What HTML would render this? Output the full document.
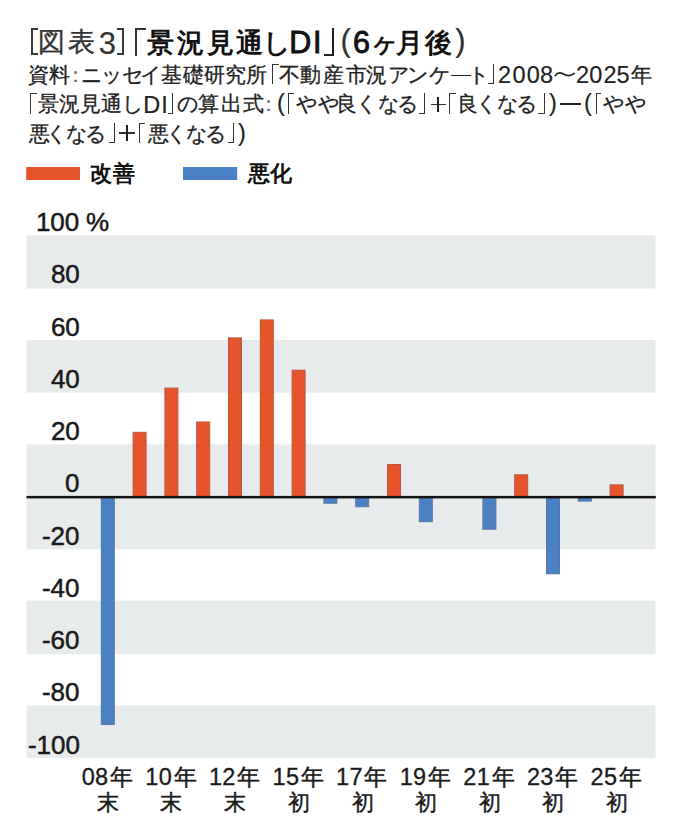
<!DOCTYPE html>
<html lang="ja">
<head>
<meta charset="utf-8">
<style>
html,body{margin:0;padding:0;background:#fff;}
body{width:680px;height:838px;position:relative;overflow:hidden;font-family:'Liberation Sans',sans-serif;color:#1a1a1a;}
i{position:absolute;font-style:normal;line-height:1;white-space:pre;}
.tr{font-size:27px;font-weight:normal;color:#333;}
.trl{font-size:31px;font-weight:normal;color:#333;}
.tb{font-size:27px;font-weight:bold;color:#111;}
.tbl{font-size:30.5px;font-weight:normal;color:#111;}
.s{font-size:21px;font-weight:normal;color:#222;}
.sl{font-size:23.5px;font-weight:normal;color:#222;}
.lg{font-size:22px;font-weight:bold;color:#111;}
.yl{font-size:26px;font-weight:normal;color:#1a1a1a;}
.xd{font-size:23.5px;font-weight:normal;color:#1a1a1a;}
.xc{font-size:23px;font-weight:normal;color:#1a1a1a;}
.xc2{font-size:22px;font-weight:normal;color:#1a1a1a;}
.sc{font-size:21px;font-weight:normal;color:#666;}
.yl{-webkit-text-stroke:0.5px #1a1a1a;}
.xd{-webkit-text-stroke:0.3px #1a1a1a;}
.xc,.xc2{-webkit-text-stroke:0.45px #1a1a1a;}
.s{-webkit-text-stroke:0.3px #222;}
.sl{-webkit-text-stroke:0.2px #222;}
.tr{-webkit-text-stroke:0.35px #333;}
.tbl{-webkit-text-stroke:0.9px #111;}
.trl{-webkit-text-stroke:0.2px #333;}
.t{position:absolute;white-space:nowrap;line-height:1;}
.xl{position:absolute;width:80px;text-align:center;line-height:1;white-space:nowrap;color:#1a1a1a;}
.xl .d{font-size:23.5px;}
.xl .c{font-size:23px;}
svg{position:absolute;left:0;top:0;}
.br{position:absolute;display:block;box-sizing:content-box;}
</style>
</head>
<body>
<svg width="680" height="838" viewBox="0 0 680 838">
  <g fill="#e8ebec">
    <rect x="26.5" y="235.4" width="629" height="53.1"/>
    <rect x="26.5" y="340.0" width="629" height="52.6"/>
    <rect x="26.5" y="444.4" width="629" height="105"/>
    <rect x="26.5" y="600.6" width="629" height="53.6"/>
    <rect x="26.5" y="705.4" width="629" height="52.5"/>
  </g>
  <rect x="26.2" y="167" width="53.8" height="13" fill="#e6542b"/>
  <rect x="183" y="167" width="54.2" height="13" fill="#4a81c5"/>
  <g fill="#e6542b" stroke="#bd553b" stroke-width="1">
    <rect x="133.1" y="432.3" width="13.0" height="64.7"/>
    <rect x="164.9" y="388.1" width="13.0" height="108.9"/>
    <rect x="196.7" y="422.0" width="13.0" height="75.0"/>
    <rect x="228.5" y="337.9" width="13.0" height="159.1"/>
    <rect x="260.3" y="319.9" width="13.0" height="177.1"/>
    <rect x="292.1" y="370.2" width="13.0" height="126.8"/>
    <rect x="387.5" y="464.5" width="13.0" height="32.5"/>
    <rect x="514.7" y="474.8" width="13.0" height="22.2"/>
    <rect x="610.1" y="484.9" width="13.0" height="12.1"/>
  </g>
  <g fill="#4a81c5" stroke="#5579a6" stroke-width="1">
    <rect x="101.3" y="497.0" width="13.0" height="227.5"/>
    <rect x="323.9" y="497.0" width="13.0" height="6.2"/>
    <rect x="355.7" y="497.0" width="13.0" height="9.7"/>
    <rect x="419.3" y="497.0" width="13.0" height="24.7"/>
    <rect x="482.9" y="497.0" width="13.0" height="32.2"/>
    <rect x="546.5" y="497.0" width="13.0" height="76.8"/>
    <rect x="578.3" y="497.0" width="13.0" height="4.1"/>
  </g>
  <path d="M555.3,75.6 C557.3,72.6 560,72.2 563,73.8 C566,75.6 569.5,77.2 574.2,73.4" fill="none" stroke="#222" stroke-width="1.7" stroke-linecap="round"/>
  <rect x="26.5" y="495.9" width="629.3" height="2.5" fill="#141414"/>
</svg>
<i class="tr" style="left:38.4px;top:28.7px">図</i>
<i class="tr" style="left:68.3px;top:28.7px">表</i>
<i class="trl" style="left:98.7px;top:27.5px">3</i>
<i class="tb" style="left:147.1px;top:29.7px">景</i>
<i class="tb" style="left:176.5px;top:29.7px">況</i>
<i class="tb" style="left:206.9px;top:29.7px">見</i>
<i class="tb" style="left:235.7px;top:29.7px">通</i>
<i class="tb" style="left:262.6px;top:29.7px">し</i>
<i class="tbl" style="left:289.2px;top:27.4px">D</i>
<i class="tbl" style="left:312.9px;top:27.4px">I</i>
<i class="trl" style="left:340.6px;top:25.3px">(</i>
<i class="tbl" style="left:352.9px;top:27.4px">6</i>
<i class="tb" style="left:371.0px;top:29.7px">ヶ</i>
<i class="tb" style="left:396.4px;top:29.7px">月</i>
<i class="tb" style="left:425.0px;top:29.7px">後</i>
<i class="trl" style="left:455.2px;top:25.3px">)</i>
<i class="s" style="left:27.5px;top:63.5px">資</i>
<i class="s" style="left:49.3px;top:63.5px">料</i>
<i class="sc" style="left:65.4px;top:63.5px">：</i>
<i class="s" style="left:80.6px;top:63.5px">ニ</i>
<i class="s" style="left:101.3px;top:63.5px">ッ</i>
<i class="s" style="left:121.9px;top:63.5px">セ</i>
<i class="s" style="left:139.8px;top:63.5px">イ</i>
<i class="s" style="left:160.8px;top:63.5px">基</i>
<i class="s" style="left:183.2px;top:63.5px">礎</i>
<i class="s" style="left:204.3px;top:63.5px">研</i>
<i class="s" style="left:224.5px;top:63.5px">究</i>
<i class="s" style="left:246.0px;top:63.5px">所</i>
<i class="s" style="left:279.0px;top:63.5px">不</i>
<i class="s" style="left:300.2px;top:63.5px">動</i>
<i class="s" style="left:323.1px;top:63.5px">産</i>
<i class="s" style="left:345.9px;top:63.5px">市</i>
<i class="s" style="left:365.8px;top:63.5px">況</i>
<i class="s" style="left:388.3px;top:63.5px">ア</i>
<i class="s" style="left:407.3px;top:63.5px">ン</i>
<i class="s" style="left:428.7px;top:63.5px">ケ</i>
<i class="s" style="left:467.5px;top:63.5px">ト</i>
<i class="sl" style="left:498.0px;top:63.9px">2</i>
<i class="sl" style="left:512.5px;top:63.9px">0</i>
<i class="sl" style="left:526.7px;top:63.9px">0</i>
<i class="sl" style="left:539.9px;top:63.9px">8</i>
<i class="sl" style="left:576.0px;top:63.9px">2</i>
<i class="sl" style="left:589.3px;top:63.9px">0</i>
<i class="sl" style="left:603.4px;top:63.9px">2</i>
<i class="sl" style="left:616.6px;top:63.9px">5</i>
<i class="s" style="left:630.8px;top:63.5px">年</i>
<i class="s" style="left:38.0px;top:93.3px">景</i>
<i class="s" style="left:59.0px;top:93.3px">況</i>
<i class="s" style="left:80.0px;top:93.3px">見</i>
<i class="s" style="left:100.8px;top:93.3px">通</i>
<i class="s" style="left:121.5px;top:93.3px">し</i>
<i class="sl" style="left:143.2px;top:93.5px">D</i>
<i class="sl" style="left:161.2px;top:93.5px">I</i>
<i class="s" style="left:176.6px;top:93.3px">の</i>
<i class="s" style="left:198.4px;top:93.3px">算</i>
<i class="s" style="left:221.4px;top:93.3px">出</i>
<i class="s" style="left:242.5px;top:93.3px">式</i>
<i class="sc" style="left:258.4px;top:93.3px">：</i>
<i class="sl" style="left:276.9px;top:92.4px">(</i>
<i class="s" style="left:296.4px;top:93.3px">や</i>
<i class="s" style="left:318.0px;top:93.3px">や</i>
<i class="s" style="left:336.0px;top:93.3px">良</i>
<i class="s" style="left:356.0px;top:93.3px">く</i>
<i class="s" style="left:378.0px;top:93.3px">な</i>
<i class="s" style="left:397.3px;top:93.3px">る</i>
<i class="s" style="left:456.5px;top:93.3px">良</i>
<i class="s" style="left:475.5px;top:93.3px">く</i>
<i class="s" style="left:497.1px;top:93.3px">な</i>
<i class="s" style="left:516.1px;top:93.3px">る</i>
<i class="sl" style="left:548.9px;top:92.4px">)</i>
<i class="sl" style="left:584.0px;top:92.4px">(</i>
<i class="s" style="left:602.8px;top:93.3px">や</i>
<i class="s" style="left:624.9px;top:93.3px">や</i>
<i class="s" style="left:28.5px;top:122.5px">悪</i>
<i class="s" style="left:45.8px;top:122.5px">く</i>
<i class="s" style="left:65.8px;top:122.5px">な</i>
<i class="s" style="left:85.0px;top:122.5px">る</i>
<i class="s" style="left:148.1px;top:122.5px">悪</i>
<i class="s" style="left:165.5px;top:122.5px">く</i>
<i class="s" style="left:185.5px;top:122.5px">な</i>
<i class="s" style="left:205.2px;top:122.5px">る</i>
<i class="sl" style="left:238.1px;top:121.7px">)</i>
<i class="lg" style="left:90.0px;top:163.0px">改</i>
<i class="lg" style="left:113.1px;top:163.0px">善</i>
<i class="lg" style="left:248.4px;top:163.0px">悪</i>
<i class="lg" style="left:270.3px;top:163.0px">化</i>
<i class="xd" style="left:81.7px;top:766.0px">0</i>
<i class="xd" style="left:95.1px;top:766.0px">8</i>
<i class="xc" style="left:110.0px;top:765.5px">年</i>
<i class="xc2" style="left:96.6px;top:792.4px">末</i>
<i class="xd" style="left:145.3px;top:766.0px">1</i>
<i class="xd" style="left:158.7px;top:766.0px">0</i>
<i class="xc" style="left:173.6px;top:765.5px">年</i>
<i class="xc2" style="left:160.2px;top:792.4px">末</i>
<i class="xd" style="left:208.9px;top:766.0px">1</i>
<i class="xd" style="left:222.3px;top:766.0px">2</i>
<i class="xc" style="left:237.2px;top:765.5px">年</i>
<i class="xc2" style="left:223.8px;top:792.4px">末</i>
<i class="xd" style="left:272.5px;top:766.0px">1</i>
<i class="xd" style="left:285.9px;top:766.0px">5</i>
<i class="xc" style="left:300.8px;top:765.5px">年</i>
<i class="xc2" style="left:287.9px;top:792.4px">初</i>
<i class="xd" style="left:336.1px;top:766.0px">1</i>
<i class="xd" style="left:349.5px;top:766.0px">7</i>
<i class="xc" style="left:364.4px;top:765.5px">年</i>
<i class="xc2" style="left:351.5px;top:792.4px">初</i>
<i class="xd" style="left:399.7px;top:766.0px">1</i>
<i class="xd" style="left:413.1px;top:766.0px">9</i>
<i class="xc" style="left:428.0px;top:765.5px">年</i>
<i class="xc2" style="left:415.1px;top:792.4px">初</i>
<i class="xd" style="left:463.3px;top:766.0px">2</i>
<i class="xd" style="left:476.7px;top:766.0px">1</i>
<i class="xc" style="left:491.6px;top:765.5px">年</i>
<i class="xc2" style="left:478.7px;top:792.4px">初</i>
<i class="xd" style="left:526.9px;top:766.0px">2</i>
<i class="xd" style="left:540.3px;top:766.0px">3</i>
<i class="xc" style="left:555.2px;top:765.5px">年</i>
<i class="xc2" style="left:542.3px;top:792.4px">初</i>
<i class="xd" style="left:590.5px;top:766.0px">2</i>
<i class="xd" style="left:603.9px;top:766.0px">5</i>
<i class="xc" style="left:618.8px;top:765.5px">年</i>
<i class="xc2" style="left:605.9px;top:792.4px">初</i>
<i class="yl" style="left:35.9px;top:209.2px">100</i>
<i class="yl" style="left:50.9px;top:261.4px">80</i>
<i class="yl" style="left:50.9px;top:313.7px">60</i>
<i class="yl" style="left:50.9px;top:365.9px">40</i>
<i class="yl" style="left:50.9px;top:418.2px">20</i>
<i class="yl" style="left:64.9px;top:470.4px">0</i>
<i class="yl" style="left:41.9px;top:522.6px">-20</i>
<i class="yl" style="left:41.9px;top:574.9px">-40</i>
<i class="yl" style="left:41.9px;top:627.1px">-60</i>
<i class="yl" style="left:41.9px;top:679.4px">-80</i>
<i class="yl" style="left:27.9px;top:731.6px">-100</i>
<i class="yl" style="left:85.9px;top:209.4px">%</i>
<b class="br" style="left:30.9px;top:28.2px;width:4.9px;height:23.1px;border-left:2.1px solid #3a3a3a;border-top:2.1px solid #3a3a3a;border-bottom:2.1px solid #3a3a3a"></b>
<b class="br" style="left:116.9px;top:28.4px;width:5.0px;height:23.1px;border-right:2.1px solid #3a3a3a;border-top:2.1px solid #3a3a3a;border-bottom:2.1px solid #3a3a3a"></b>
<b class="br" style="left:135.0px;top:28.0px;width:8.8px;height:25.6px;border-left:2.2px solid #333;border-top:2.2px solid #333"></b>
<b class="br" style="left:324.0px;top:28.2px;width:7.9px;height:26.1px;border-right:2.1px solid #222;border-bottom:2.1px solid #222"></b>
<b class="br" style="left:271.6px;top:64.0px;width:6.0px;height:19.2px;border-left:1.8px solid #333;border-top:1.8px solid #333"></b>
<b class="br" style="left:487.9px;top:64.3px;width:4.9px;height:19.2px;border-right:1.8px solid #333;border-bottom:1.8px solid #333"></b>
<b class="br" style="left:30.0px;top:92.6px;width:6.0px;height:20.0px;border-left:1.8px solid #333;border-top:1.8px solid #333"></b>
<b class="br" style="left:167.7px;top:92.8px;width:4.3px;height:19.8px;border-right:1.8px solid #333;border-bottom:1.8px solid #333"></b>
<b class="br" style="left:288.0px;top:92.6px;width:4.6px;height:20.0px;border-left:1.8px solid #333;border-top:1.8px solid #333"></b>
<b class="br" style="left:419.3px;top:92.8px;width:5.2px;height:19.8px;border-right:1.8px solid #333;border-bottom:1.8px solid #333"></b>
<b class="br" style="left:449.3px;top:92.6px;width:5.7px;height:20.0px;border-left:1.8px solid #333;border-top:1.8px solid #333"></b>
<b class="br" style="left:538.4px;top:92.8px;width:5.3px;height:19.8px;border-right:1.8px solid #333;border-bottom:1.8px solid #333"></b>
<b class="br" style="left:595.9px;top:92.6px;width:4.3px;height:20.0px;border-left:1.8px solid #333;border-top:1.8px solid #333"></b>
<b class="br" style="left:108.8px;top:122.6px;width:5.3px;height:19.4px;border-right:1.8px solid #333;border-bottom:1.8px solid #333"></b>
<b class="br" style="left:138.8px;top:122.6px;width:5.3px;height:19.4px;border-left:1.8px solid #333;border-top:1.8px solid #333"></b>
<b class="br" style="left:227.7px;top:123.0px;width:5.7px;height:19.4px;border-right:1.8px solid #333;border-bottom:1.8px solid #333"></b>
<b class="br" style="left:450.6px;top:74.6px;width:20.3px;height:1.7px;background:#222"></b>
<b class="br" style="left:559.5px;top:102.9px;width:21.5px;height:1.7px;background:#222"></b>
<b class="br" style="left:430.7px;top:103.5px;width:15.0px;height:1.5px;background:#333"></b>
<b class="br" style="left:437.4px;top:96.8px;width:1.5px;height:15.0px;background:#222"></b>
<b class="br" style="left:119.4px;top:132.2px;width:15.5px;height:1.5px;background:#333"></b>
<b class="br" style="left:126.4px;top:125.2px;width:1.5px;height:15.5px;background:#222"></b>


</body>
</html>
